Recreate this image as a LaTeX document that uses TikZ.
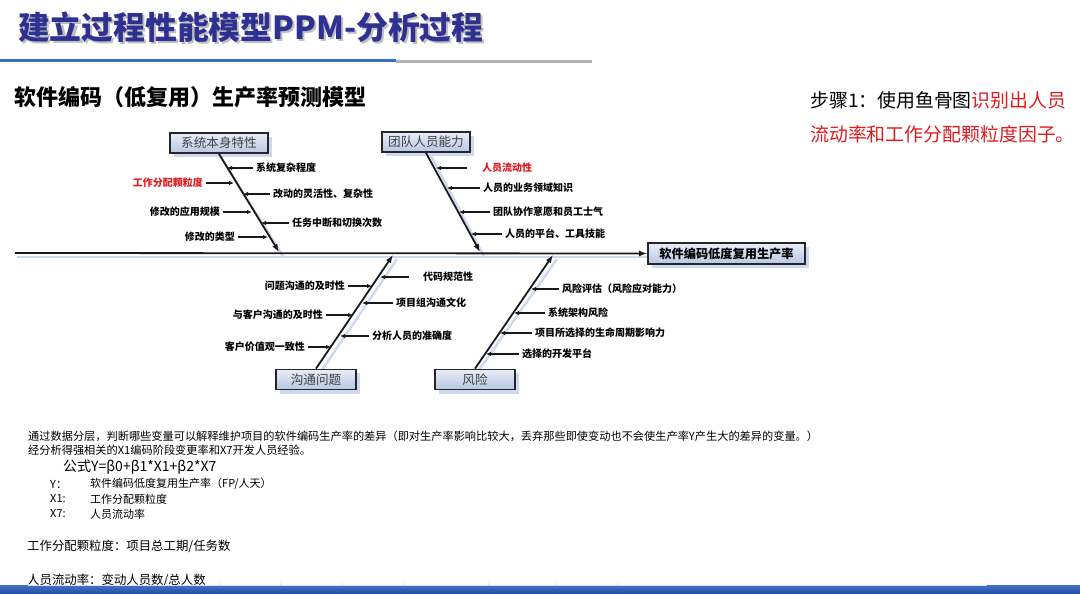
\documentclass[tikz,border=0pt]{standalone}
\usepackage{fontspec}
\setmainfont{Noto Sans CJK SC}
\usetikzlibrary{arrows.meta,calc}
\definecolor{titleblue}{RGB}{46,49,146}
\definecolor{rulblue}{RGB}{58,110,200}
\definecolor{rulgray}{RGB}{178,178,178}
\definecolor{redtxt}{RGB}{222,28,30}
\definecolor{boxtop}{RGB}{232,237,247}
\definecolor{boxbot}{RGB}{184,199,226}
\definecolor{shadowc}{RGB}{205,217,238}
\definecolor{barA}{RGB}{70,115,200}
\definecolor{barB}{RGB}{32,78,160}
\begin{document}
\begin{tikzpicture}[x=1pt,y=-1pt,
  bone/.style={line width=1.8pt,draw=black!90,-{Latex[length=8pt,width=6pt]}},
  twig/.style={line width=1.3pt,draw=black!90,-{Latex[length=5pt,width=4.5pt]},shorten <=3pt},
  lbl/.style={font=\fontsize{10}{10}\selectfont\bfseries,inner sep=0pt},
  catbox/.style={draw=black!85,line width=1.8pt,top color=boxtop,bottom color=boxbot,
     minimum height=20pt,font=\fontsize{12.6}{12.6}\selectfont,text=black!75,inner sep=0pt},
  bodytxt/.style={inner sep=0pt,anchor=west},
]
\useasboundingbox (0,0) rectangle (1080,594);
% title
\node[bodytxt,font=\fontsize{31.8}{32}\selectfont\bfseries,text=black!25] at (20,29) {建立过程性能模型PPM-分析过程};
\node[bodytxt,font=\fontsize{31.8}{32}\selectfont\bfseries,text=titleblue] (title) at (18,27) {建立过程性能模型PPM-分析过程};
\fill[rulgray] (396,60) rectangle (592,63.5);
\fill[rulblue] (0,59) rectangle (396,62.5);
% subtitle
\node[bodytxt,font=\fontsize{22}{22}\selectfont\bfseries] (sub) at (14,97) {软件编码（低复用）生产率预测模型};
% step text
\node[bodytxt,font=\fontsize{18.9}{19}\selectfont] (step1) at (810,100) {步骤1：使用鱼骨图\textcolor{redtxt}{识别出人员}};
\node[bodytxt,font=\fontsize{18.9}{19}\selectfont,text=redtxt] (step2) at (810,134) {流动率和工作分配颗粒度因子。};

% ---------- fishbone ----------
% shadows
\draw[shadowc,line width=2.5pt] (17,257) -- (648,257);
\draw[shadowc,line width=2.5pt] (220,156) -- (283,256);
\draw[shadowc,line width=2.5pt] (431,156) -- (484,256);
\draw[shadowc,line width=2.5pt] (322,370) -- (397,259);
\draw[shadowc,line width=2.5pt] (479,370) -- (557,259);
\fill[shadowc] (174,137) rectangle (272,157);
\fill[shadowc] (386,136) rectangle (474,156);
\fill[shadowc] (280,373) rectangle (360,394);
\fill[shadowc] (439,373) rectangle (519,394);
\fill[shadowc] (652,247) rectangle (809,268);

\node[catbox,minimum width=98pt] (c1) at (219,143) {系统本身特性};
\node[catbox,minimum width=88pt] (c2) at (426,142) {团队人员能力};
\node[catbox,minimum width=80pt] (c3) at (316,379.5) {沟通问题};
\node[catbox,minimum width=80pt] (c4) at (475,379.5) {风险};
\node[catbox,minimum width=157pt,minimum height=21pt,font=\fontsize{12.2}{12}\selectfont\bfseries,text=black] (head) at (726.5,253.5) {软件编码低度复用生产率};

\coordinate (tail) at (15,253);
\coordinate (j1) at (279,252);
\coordinate (j2) at (480,252);
\coordinate (j3) at (393,255);
\coordinate (j4) at (553,255);
\draw[bone] (tail) -- (head.west);
\draw[bone] (c1.south) -- (j1);
\draw[bone] (c2.south) -- (j2);
\draw[bone] (c3.north) -- (j3);
\draw[bone] (c4.north) -- (j4);

% bone 1 twigs
\node[lbl,anchor=west] (a1) at (256,168) {系统复杂程度};
\coordinate (p1) at (227,168);
\draw[twig] (a1.west) -- (p1);
\node[lbl,anchor=east,text=redtxt] (a2) at (203,183) {工作分配颗粒度};
\coordinate (p2) at (234,183);
\draw[twig] (a2.east) -- (p2);
\node[lbl,anchor=west] (a3) at (273,194) {改动的灵活性、复杂性};
\coordinate (p3) at (243,194);
\draw[twig] (a3.west) -- (p3);
\node[lbl,anchor=east] (a4) at (220,212) {修改的应用规模};
\coordinate (p4) at (252,212);
\draw[twig] (a4.east) -- (p4);
\node[lbl,anchor=west] (a5) at (292,223) {任务中断和切换次数};
\coordinate (p5) at (261,223);
\draw[twig] (a5.west) -- (p5);
\node[lbl,anchor=east] (a6) at (235,237) {修改的类型};
\coordinate (p6) at (268,237);
\draw[twig] (a6.east) -- (p6);

% bone 2 twigs
\node[lbl,anchor=west,text=redtxt] (b1) at (482,168) {人员流动性};
\coordinate (q1) at (436,168);
\draw[twig,shorten <=15pt] (b1.west) -- (q1);
\node[lbl,anchor=west] (b2) at (483,188) {人员的业务领域知识};
\coordinate (q2) at (447,188);
\draw[twig] (b2.west) -- (q2);
\node[lbl,anchor=west] (b3) at (493,212) {团队协作意愿和员工士气};
\coordinate (q3) at (459,212);
\draw[twig] (b3.west) -- (q3);
\node[lbl,anchor=west] (b4) at (505,234) {人员的平台、工具技能};
\coordinate (q4) at (471,234);
\draw[twig] (b4.west) -- (q4);

% bone 3 twigs
\node[lbl,anchor=west] (d1) at (423,277) {代码规范性};
\coordinate (r1) at (380,277);
\draw[twig,shorten <=14pt] (d1.west) -- (r1);
\node[lbl,anchor=east] (d2) at (345,286) {问题沟通的及时性};
\coordinate (r2) at (372,286);
\draw[twig] (d2.east) -- (r2);
\node[lbl,anchor=west] (d3) at (396,303) {项目组沟通文化};
\coordinate (r3) at (362,303);
\draw[twig] (d3.west) -- (r3);
\node[lbl,anchor=east] (d4) at (323,315) {与客户沟通的及时性};
\coordinate (r4) at (353,315);
\draw[twig] (d4.east) -- (r4);
\node[lbl,anchor=west] (d5) at (372,336) {分析人员的准确度};
\coordinate (r5) at (340,336);
\draw[twig] (d5.west) -- (r5);
\node[lbl,anchor=east] (d6) at (305,347) {客户价值观一致性};
\coordinate (r6) at (331,347);
\draw[twig] (d6.east) -- (r6);

% bone 4 twigs
\node[lbl,anchor=west] (e1) at (562,289) {风险评估（风险应对能力）};
\coordinate (s1) at (531,289);
\draw[twig] (e1.west) -- (s1);
\node[lbl,anchor=west] (e2) at (548,313) {系统架构风险};
\coordinate (s2) at (514,313);
\draw[twig] (e2.west) -- (s2);
\node[lbl,anchor=west] (e3) at (535,333) {项目所选择的生命周期影响力};
\coordinate (s3) at (500,333);
\draw[twig] (e3.west) -- (s3);
\node[lbl,anchor=west] (e4) at (522,354) {选择的开发平台};
\coordinate (s4) at (486,354);
\draw[twig] (e4.west) -- (s4);

% ---------- text block ----------
\node[bodytxt,font=\fontsize{11.2}{11}\selectfont] (t1) at (28,436) {通过数据分层，判断哪些变量可以解释维护项目的软件编码生产率的差异（即对生产率影响比较大，丢弃那些即使变动也不会使生产率Y产生大的差异的变量。）};
\node[bodytxt,font=\fontsize{11.2}{11}\selectfont] (t2) at (28,450) {经分析得强相关的X1编码阶段变更率和X7开发人员经验。};
\node[bodytxt,font=\fontsize{14}{14}\selectfont] (t3) at (63,467) {公式Y=β0+β1*X1+β2*X7};
\node[bodytxt,font=\fontsize{11}{11}\selectfont] (y0) at (50,484) {Y：};
\node[bodytxt,font=\fontsize{11}{11}\selectfont] (y1) at (90,484) {软件编码低度复用生产率（FP/人天）};
\node[bodytxt,font=\fontsize{11}{11}\selectfont] (x10) at (50,499) {X1:};
\node[bodytxt,font=\fontsize{11}{11}\selectfont] (x11) at (90,499) {工作分配颗粒度};
\node[bodytxt,font=\fontsize{11}{11}\selectfont] (x70) at (50,514) {X7:};
\node[bodytxt,font=\fontsize{11}{11}\selectfont] (x71) at (90,514) {人员流动率};
\node[bodytxt,font=\fontsize{12.4}{12}\selectfont] (f1) at (27,546) {工作分配颗粒度：项目总工期/任务数};
\node[bodytxt,font=\fontsize{12.4}{12}\selectfont] (f2) at (27,580) {人员流动率：变动人员数/总人数};

% ---------- bottom bar ----------
\shade[top color=barA,bottom color=barB] (0,585) rectangle (1080,594);
\draw[white!80!barA,line width=0.8pt] (28,585.5) -- (986,585.5);
\foreach \xx in {28,219,280,342,403,488,556,617,986}
  \draw[white!80!barA,line width=0.7pt] (\xx,582.5) -- (\xx,586);
\end{tikzpicture}
\end{document}
